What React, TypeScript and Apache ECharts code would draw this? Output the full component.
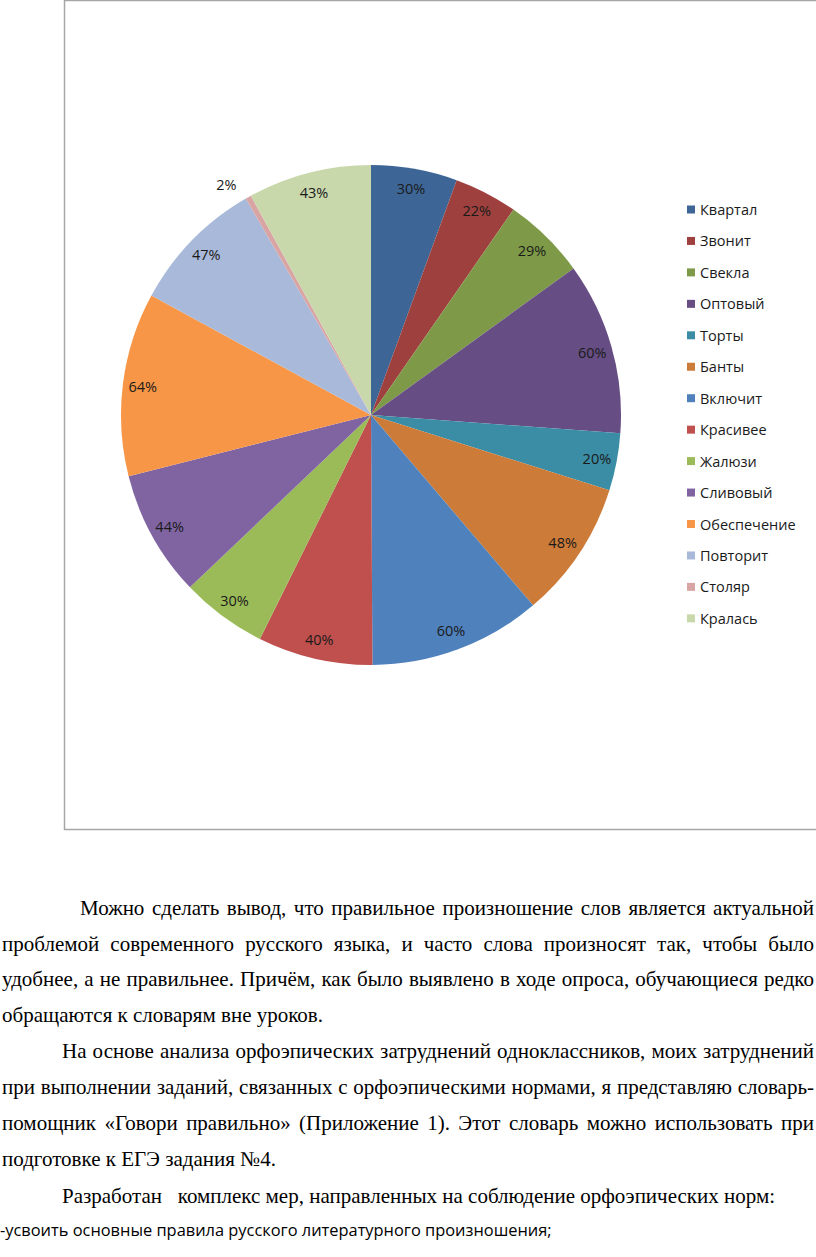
import React, { useEffect, useRef } from "react";
import * as echarts from "echarts";

const categories = [
  "Квартал", "Звонит", "Свекла", "Оптовый", "Торты", "Банты", "Включит",
  "Красивее", "Жалюзи", "Сливовый", "Обеспечение", "Повторит", "Столяр", "Кралась",
];
const values = [30, 22, 29, 60, 20, 48, 60, 40, 30, 44, 64, 47, 2, 43];
const colors = [
  "#3D6696", "#9E413E", "#7E9A48", "#664E84", "#3A8DA5", "#CD7B38", "#4F81BD",
  "#C0504D", "#9BBB59", "#8064A2", "#F79646", "#A9B9D9", "#D9A5A4", "#C8D8AB",
];
const outsideLabels = ["Столяр"];

const paragraphLines = [
  { text: "Можно сделать вывод, что правильное произношение слов является актуальной", left: 80, y: 910, justify: true },
  { text: "проблемой современного русского языка, и часто слова произносят так, чтобы было", left: 2, y: 946, justify: true },
  { text: "удобнее, а не правильнее. Причём, как было выявлено в ходе опроса, обучающиеся редко", left: 2, y: 981, justify: true },
  { text: "обращаются к словарям вне уроков.", left: 2, y: 1017, justify: false },
  { text: "На основе анализа орфоэпических затруднений одноклассников, моих затруднений", left: 62, y: 1053, justify: true },
  { text: "при выполнении заданий, связанных с орфоэпическими нормами, я представляю словарь-", left: 2, y: 1089, justify: true },
  { text: "помощник «Говори правильно» (Приложение 1). Этот словарь можно использовать при", left: 2, y: 1125, justify: true },
  { text: "подготовке к ЕГЭ задания №4.", left: 2, y: 1161, justify: false },
  { text: "Разработан   комплекс мер, направленных на соблюдение орфоэпических норм:", left: 62, y: 1198, justify: false },
];
const lastLine = "-усвоить основные правила русского литературного произношения;";

export default function App() {
  const ref = useRef<HTMLDivElement>(null);

  useEffect(() => {
    document.body.style.margin = "0";
    const chart = echarts.init(ref.current!, undefined, { renderer: "svg" });
    const data = categories.map((name, i) => ({ name, value: values[i] }));
    chart.setOption({
      animation: false,
      color: colors,
      graphic: [
        {
          type: "rect",
          shape: { x: 64.5, y: 0.5, width: 800, height: 829 },
          style: { fill: "none", stroke: "#a6a6a6", lineWidth: 1.5 },
          silent: true,
        },
      ],
      legend: {
        orient: "vertical",
        left: 687,
        top: 202,
        padding: 0,
        icon: "rect",
        itemWidth: 8,
        itemHeight: 8,
        itemGap: 16.45,
        data: categories,
        textStyle: {
          fontFamily: "Open Sans",
          fontSize: 14.5,
          lineHeight: 15,
          color: "#1a1a1a",
        },
        selectedMode: false,
      },
      series: [
        {
          type: "pie",
          center: [371, 415],
          radius: [0, 250],
          startAngle: 90,
          clockwise: true,
          data,
          label: { show: false },
          labelLine: { show: false },
          itemStyle: { borderWidth: 0 },
          silent: true,
        },
        {
          type: "pie",
          center: [371, 415],
          radius: [204, 250],
          startAngle: 90,
          clockwise: true,
          silent: true,
          data: categories.map((name, i) => {
            const outside = outsideLabels.includes(name);
            return {
              name,
              value: values[i],
              label: outside ? { position: "outside" } : undefined,
              labelLine: outside ? { show: false, length: 14, length2: 0 } : undefined,
            };
          }),
          itemStyle: { color: "rgba(0,0,0,0)", borderWidth: 0 },
          label: {
            show: true,
            position: "inside",
            formatter: (p: any) => `${p.value}%`,
            fontFamily: "Open Sans",
            fontSize: 14.5,
            color: "#1a1a1a",
          },
          labelLine: { show: false },
        },
      ],
    });
    return () => chart.dispose();
  }, []);

  return (
    <div style={{ position: "relative", width: 816, height: 1257, overflow: "hidden", background: "#fff" }}>
      <div ref={ref} style={{ position: "absolute", left: 0, top: 0, width: 816, height: 840 }} />
      {paragraphLines.map((l, i) => (
        <div
          key={i}
          style={{
            position: "absolute",
            left: l.left,
            top: l.y - 20,
            width: 814 - l.left,
            fontFamily: "'Liberation Serif', 'Times New Roman', serif",
            fontSize: 21,
            lineHeight: "36px",
            color: "#000",
            whiteSpace: l.justify ? "nowrap" : "pre",
            textAlign: l.justify ? "justify" : "left",
            textAlignLast: l.justify ? "justify" : "left",
          } as any}
        >
          {l.text}
        </div>
      ))}
      <div
        style={{
          position: "absolute",
          left: 0,
          top: 1232 - 17,
          fontFamily: "'Open Sans', sans-serif",
          fontSize: 16.4,
          lineHeight: "30px",
          color: "#000",
          whiteSpace: "nowrap",
        }}
      >
        {lastLine}
      </div>
    </div>
  );
}
